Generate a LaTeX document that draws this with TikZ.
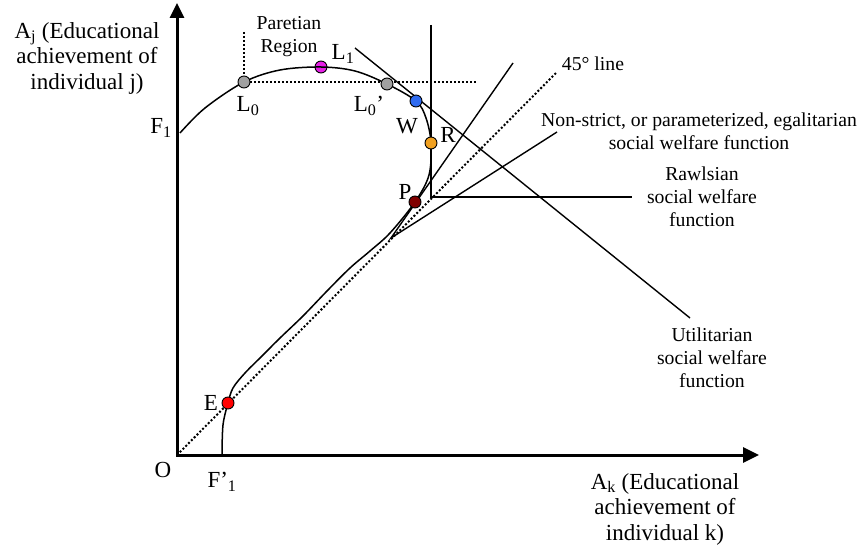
\documentclass[tikz,border=0pt]{standalone}
\usepackage{fontspec}
\setmainfont{Liberation Serif}
\usetikzlibrary{arrows.meta,positioning}

\definecolor{dotgray}{HTML}{A0A0A0}
\definecolor{dotmagenta}{HTML}{E61EE6}
\definecolor{dotblue}{HTML}{2F6BF0}
\definecolor{dotorange}{HTML}{F0A020}
\definecolor{dotdarkred}{HTML}{800000}
\definecolor{dotred}{HTML}{FF0000}

\tikzset{
  axis/.style={line width=3pt, {Triangle[length=15pt,width=14pt]}-{Triangle[length=16pt,width=15pt]}},
  swf/.style={line width=1.4pt},
  guide/.style={line width=2pt, dash pattern=on 2pt off 2pt},
  pt/.style={circle, draw, line width=0.9pt, inner sep=0pt, minimum size=12pt},
  biglab/.style={font=\fontsize{23}{25.5}\selectfont, inner sep=0pt, align=center},
  smalllab/.style={font=\fontsize{19.7}{23}\selectfont, inner sep=0pt, align=center},
}

\begin{document}
\begin{tikzpicture}[x=1pt, y=-1pt]
\useasboundingbox (0,0) rectangle (863,548);

% axes
\coordinate (o) at (177,455);
\coordinate (ytop) at (177,3);
\coordinate (xend) at (759,455);
\draw[axis] (ytop) -- (o) -- (xend);

\node (ajlab) [biglab] at (87,58) {A\textsubscript{j} (Educational\\achievement of\\individual j)};
\node (aklab) [biglab] at (665,509) {A\textsubscript{k} (Educational\\achievement of\\individual k)};
\node (olab) [biglab] at (163,470) {O};
\node (f1lab) [biglab] at (161,128) {F\textsubscript{1}};
\node (fp1lab) [biglab] at (222,482) {F’\textsubscript{1}};

% 45 degree line and Paretian region
\coordinate (deg45) at (557,72);
\coordinate (paretotop) at (244,32);
\coordinate (paretoright) at (476,82);
\draw[guide] (o) -- (deg45);
\node (deg45lab) [smalllab] at (593,64) {45° line};
\node (paretolab) [smalllab] at (289,37) {Paretian\\Region};

% social welfare functions
\coordinate (utila) at (355,48);
\coordinate (utilb) at (690,318);
\draw[swf] (utila) -- (utilb);
\node (utillab) [smalllab] at (712,358) {Utilitarian\\social welfare\\function};

\coordinate (rawlstop) at (431,25);
\coordinate (rawlscorner) at (431,197);
\coordinate (rawlsend) at (632,197);
\draw[swf] (rawlstop) -- (rawlscorner) -- (rawlsend);
\node (rawlslab) [smalllab] at (702,197) {Rawlsian\\social welfare\\function};

\coordinate (egalup) at (513,63);
\coordinate (egalcorner) at (391,238);
\coordinate (egalend) at (557,132);
\draw[swf] (egalup) -- (egalcorner) -- (egalend);
\node (egallab) [smalllab] at (699,131) {Non-strict, or parameterized, egalitarian\\social welfare function};

% frontier
\coordinate (f1) at (180,133);
\coordinate (fp1) at (222,455);
\node (l1) [pt, fill=dotmagenta] at (321,67) {};
\draw[swf, line width=1.5pt] plot[smooth, tension=0.55] coordinates {(f1) (205,108) (244,82) (280,70) (321,67) (355,71) (387,84) (416,101) (426,118) (431,143) (429,175) (415,202) (390,233) (370,251) (350,268) (327,291) (303,316) (280,338) (262,356) (245,373) (233,388) (228,403) (223,425) (fp1)};

\draw[guide] (paretotop) -- (244,82) -- (paretoright);

% points on the frontier
\node (l0) [pt, fill=dotgray] at (244,82) {};
\node (l0p) [pt, fill=dotgray] at (387,84) {};
\node (w) [pt, fill=dotblue] at (416,101) {};
\node (r) [pt, fill=dotorange] at (431,143) {};
\node (p) [pt, fill=dotdarkred] at (415,202) {};
\node (e) [pt, fill=dotred] at (228,403) {};

\node (l0lab) [biglab] at (248,106) {L\textsubscript{0}};
\node (l1lab) [biglab] at (343,54) {L\textsubscript{1}};
\node (l0plab) [biglab] at (369,106) {L\textsubscript{0}’};
\node (wlab) [biglab] at (407,126) {W};
\node (rlab) [biglab] at (448,135) {R};
\node (plab) [biglab] at (405,192) {P};
\node (elab) [biglab] at (211,403) {E};

\end{tikzpicture}
\end{document}
